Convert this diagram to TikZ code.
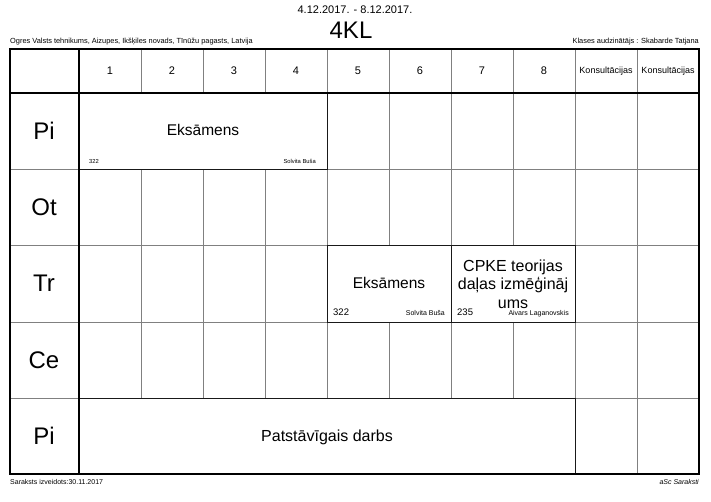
\documentclass[tikz,border=0pt]{standalone}
\usepackage{fontspec}
\setmainfont{Liberation Sans}
\begin{document}
\begin{tikzpicture}[x=1pt,y=-1pt,
  txt/.style={inner sep=0pt, text=black},
  fs/.style={font=\fontsize{#1}{#1}\selectfont},
  gridline/.style={draw=black!50, line width=1pt},
  thickline/.style={draw=black, line width=2pt},
  blockbox/.style={draw=black!90, line width=1pt, fill=white, inner sep=0pt}]
\useasboundingbox (0,0) rectangle (711,501);
% grid
\foreach \x in {141,203,265,327,389,451,513,575,637} \draw[gridline] (\x,49) -- (\x,474);
\foreach \y in {169,245,322,398} \draw[gridline] (10,\y) -- (699,\y);
% merged blocks
\node[blockbox, minimum width=248pt, minimum height=76pt] (bpi1) at (203,131) {};
\node[blockbox, minimum width=124pt, minimum height=77pt] (btr1) at (389,283.5) {};
\node[blockbox, minimum width=124pt, minimum height=77pt] (btr2) at (513,283.5) {};
\node[blockbox, minimum width=496pt, minimum height=76pt] (bpi2) at (327,436) {};
% thick lines
\coordinate (hl) at (10,93); \coordinate (hr) at (699,93);
\coordinate (vt) at (79,49); \coordinate (vb) at (79,474);
\draw[thickline] (hl) -- (hr);
\draw[thickline] (vt) -- (vb);
\node[draw=black, line width=2pt, minimum width=689pt, minimum height=425pt, inner sep=0pt] (frame) at (354.5,261.5) {};
% titles
\node[txt, fs=11] (date) at (355,10) {4.12.2017. - 8.12.2017.};
\node[txt, fs=24, anchor=base] (cls) at (351,38) {4KL};
\node[txt, fs=7.4, anchor=base west] (school) at (10,43) {Ogres Valsts tehnikums, Aizupes, Ikšķiles novads, Tīnūžu pagasts, Latvija};
\node[txt, fs=7.4, anchor=base east] (teacher) at (699,43) {Klases audzinātājs : Skabarde Tatjana};
% header
\foreach \n/\x in {1/110,2/172,3/234,4/296,5/358,6/420,7/482,8/544}
  \node[txt, fs=11] (h\n) at (\x,71) {\n};
\node[txt, fs=9] (k1) at (606,71) {Konsultācijas};
\node[txt, fs=9] (k2) at (668,71) {Konsultācijas};
% day labels
\node[txt, fs=24] (d1) at (44,131) {Pi};
\node[txt, fs=24] (d2) at (44,207) {Ot};
\node[txt, fs=24] (d3) at (44,283.5) {Tr};
\node[txt, fs=24] (d4) at (44,360) {Ce};
\node[txt, fs=24] (d5) at (44,436) {Pi};
% lessons
\node[txt, fs=15.5] (e1) at (203,130) {Eksāmens};
\node[txt, fs=5.8, anchor=base west] (r1) at (89,163) {322};
\node[txt, fs=5.8, anchor=base east] (t1) at (316,163) {Solvita Buša};
\node[txt, fs=15.5] (e2) at (389,283) {Eksāmens};
\node[txt, fs=9.5, anchor=base west] (r2) at (333,315) {322};
\node[txt, fs=7, anchor=base east] (t2) at (445,315) {Solvita Buša};
\node[txt, align=center, font=\fontsize{16}{18.5}\selectfont] (c1) at (513,284) {CPKE teorijas\\daļas izmēģināj\\ums};
\node[txt, fs=9.5, anchor=base west] (r3) at (457,315) {235};
\node[txt, fs=7, anchor=base east] (t3) at (569,315) {Aivars Laganovskis};
\node[txt, fs=16] (pd) at (327,437) {Patstāvīgais darbs};
% footer
\node[txt, fs=7, anchor=base west] (f1) at (10,484) {Saraksts izveidots:30.11.2017};
\node[txt, fs=7, anchor=base east] (f2) at (699,484) {\itshape aSc Saraksti};
\end{tikzpicture}
\end{document}
